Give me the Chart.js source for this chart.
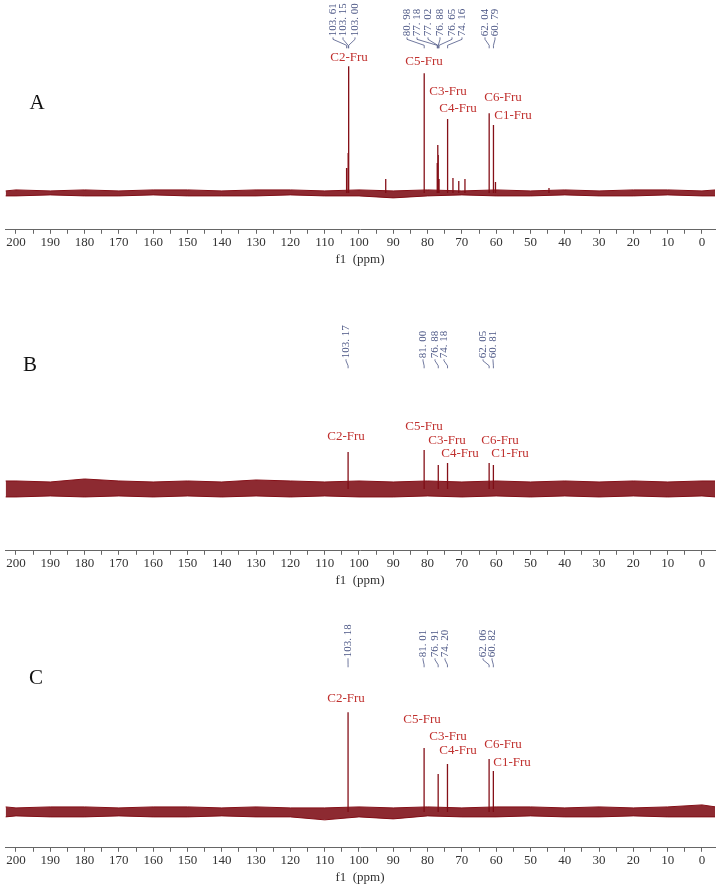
<!DOCTYPE html>
<html lang="en">
<head>
    <meta charset="UTF-8">
    <title>13C NMR spectra A, B, C</title>
    <style>
        body {
            margin: 0;
            background: #fff;
            width: 721px;
            height: 888px;
            overflow: hidden;
            position: relative;
        }
        .panel {
            position: absolute;
            left: 0;
            width: 721px;
        }
    </style>
</head>
<body>
    <div class="panel" id="wrapA"><canvas id="chartA" width="721" height="272"></canvas></div>
    <div class="panel" id="wrapB"><canvas id="chartB" width="721" height="290"></canvas></div>
    <div class="panel" id="wrapC"><canvas id="chartC" width="721" height="288"></canvas></div>

    <script src="https://cdn.jsdelivr.net/npm/chart.js"></script>
    <script>
        // axis
        const tickLabels = [200, 190, 180, 170, 160, 150, 140, 130, 120, 110, 100, 90, 80, 70, 60, 50, 40, 30, 20, 10, 0];
        const assignNames = ['C2-Fru', 'C5-Fru', 'C3-Fru', 'C4-Fru', 'C6-Fru', 'C1-Fru'];

        // baseline noise envelope (ppm grid)
        const noisePpm = [203, 200, 190, 180, 170, 160, 150, 140, 130, 120, 110, 100, 90, 80, 70, 60, 50, 40, 30, 20, 10, 0, -4];

        // spectrum A
        const peakPpmA = [103.61, 103.15, 103.00, 92.2, 80.98, 77.18, 77.02, 76.88, 76.65, 74.16, 72.6, 70.9, 69.1, 62.04, 60.79, 60.2, 44.6];
        const peakIntA = [25, 40, 127, 14, 120, 30, 48, 38, 14, 74, 15, 12, 14, 80, 68, 11, 5];
        const noiseHiA = [2, 3, 2, 3, 2, 3, 3, 2, 3, 3, 2, 3, 2, 3, 2, 3, 2, 3, 2, 3, 3, 2, 3];
        const noiseLoA = [-3, -3, -2, -3, -3, -2, -3, -3, -3, -2, -3, -3, -5, -3, -2, -3, -3, -2, -3, -3, -2, -3, -3];
        const shiftsA = [103.61, 103.15, 103.00, 80.98, 77.18, 77.02, 76.88, 76.65, 74.16, 62.04, 60.79];

        // spectrum B
        const peakPpmB = [103.17, 81.00, 76.88, 74.18, 62.05, 60.81];
        const peakIntB = [37, 39, 24, 26, 26, 24];
        const noiseHiB = [8, 8, 7, 10, 8, 7, 8, 7, 9, 8, 7, 8, 7, 8, 7, 8, 7, 8, 7, 8, 7, 8, 8];
        const noiseLoB = [-8, -8, -7, -8, -7, -8, -7, -8, -7, -8, -7, -8, -8, -7, -8, -7, -8, -7, -8, -7, -8, -7, -8];
        const shiftsB = [103.17, 81.00, 76.88, 74.18, 62.05, 60.81];

        // spectrum C
        const peakPpmC = [103.18, 81.01, 76.91, 74.20, 62.06, 60.82];
        const peakIntC = [100, 64, 38, 48, 53, 41];
        const noiseHiC = [5, 4, 5, 5, 4, 5, 5, 4, 5, 4, 4, 5, 4, 5, 4, 5, 5, 4, 5, 4, 5, 7, 5];
        const noiseLoC = [-5, -4, -5, -5, -4, -5, -5, -4, -5, -5, -8, -5, -7, -4, -5, -5, -4, -5, -5, -4, -5, -5, -5];
        const shiftsC = [103.18, 81.01, 76.91, 74.20, 62.06, 60.82];

        // page placement (pixels)
        const layoutA = {
            letter: 'A', letterXY: [37, 103], axisY: 230, baseY: 193,
            shiftX: [333, 343, 355, 407, 417, 428, 440, 452, 462, 485, 495], shiftBottom: 36, shiftLen: 12,
            assignXY: [[349, 57], [424, 61], [448, 91], [458, 108], [503, 97], [513, 115]]
        };
        const layoutB = {
            letter: 'B', letterXY: [30, 365], axisY: 551, baseY: 489,
            shiftX: [346, 423, 435, 444, 483, 493], shiftBottom: 358, shiftLen: 10,
            assignXY: [[346, 436], [424, 426], [447, 440], [460, 454], [500, 440], [510, 454]]
        };
        const layoutC = {
            letter: 'C', letterXY: [36, 678], axisY: 848, baseY: 812,
            shiftX: [348, 423, 435, 445, 483, 492], shiftBottom: 657, shiftLen: 10,
            assignXY: [[346, 698], [422, 719], [448, 736], [458, 751], [503, 745], [512, 763]]
        };

        const specColor = '#851018';
        const specFill = 'rgba(125, 12, 20, 0.88)';
        const serif = '"Liberation Serif", "DejaVu Serif", serif';

        // one vertical stick per peak, broken apart by gaps
        function stickData(ppm, h) {
            const pts = [];
            ppm.forEach((p, i) => {
                pts.push({x: p, y: 0}, {x: p, y: h[i]}, {x: p, y: null});
            });
            return pts;
        }

        function envelope(vals) {
            return noisePpm.map((p, i) => ({x: p, y: vals[i]}));
        }

        function makeChart(canvasId, wrapId, peakPpm, peakInt, hi, lo, shifts, L) {
            // labels, shift values and the panel letter
            const annotate = {
                id: 'annotate',
                afterDatasetsDraw(chart) {
                    const ctx = chart.ctx;
                    const xs = chart.scales.x;
                    const ys = chart.scales.y;
                    const py = v => ys.getPixelForValue(L.baseY - v);
                    ctx.save();

                    // panel letter
                    ctx.fillStyle = '#111';
                    ctx.font = '21px ' + serif;
                    ctx.textAlign = 'center';
                    ctx.textBaseline = 'middle';
                    ctx.fillText(L.letter, L.letterXY[0], py(L.letterXY[1]));

                    // assignments
                    ctx.fillStyle = '#c0302e';
                    ctx.font = '13px ' + serif;
                    assignNames.forEach((name, i) => {
                        ctx.fillText(name, L.assignXY[i][0], py(L.assignXY[i][1]));
                    });

                    // chemical shift labels
                    ctx.strokeStyle = '#4b5685';
                    ctx.fillStyle = '#4b5685';
                    ctx.lineWidth = 0.8;
                    ctx.font = '11px ' + serif;
                    shifts.forEach((s, i) => {
                        const xl = L.shiftX[i];
                        const xp = xs.getPixelForValue(s);
                        const b = L.shiftBottom;
                        const n = L.shiftLen;
                        ctx.save();
                        ctx.translate(xl, py(b));
                        ctx.rotate(-Math.PI / 2);
                        ctx.textAlign = 'left';
                        ctx.fillText(s.toFixed(2).replace('.', '. '), 0, 0);
                        ctx.restore();
                        ctx.beginPath();
                        ctx.moveTo(xl, py(b + 1));
                        ctx.lineTo(xl, py(b + n * 0.25));
                        ctx.lineTo(xp, py(b + n * 0.75));
                        ctx.lineTo(xp, py(b + n));
                        ctx.stroke();
                    });
                    ctx.restore();
                }
            };

            const chart = new Chart(document.getElementById(canvasId), {
                type: 'line',
                data: {
                    datasets: [
                        {
                            data: envelope(hi),
                            borderColor: specColor,
                            borderWidth: 1,
                            backgroundColor: specFill,
                            fill: '+1',
                            pointRadius: 0,
                            tension: 0
                        },
                        {
                            data: envelope(lo),
                            borderColor: specColor,
                            borderWidth: 1,
                            fill: false,
                            pointRadius: 0,
                            tension: 0
                        },
                        {
                            data: stickData(peakPpm, peakInt),
                            borderColor: specColor,
                            borderWidth: 1.3,
                            fill: false,
                            spanGaps: false,
                            pointRadius: 0,
                            tension: 0
                        }
                    ]
                },
                options: {
                    responsive: false,
                    animation: false,
                    events: [],
                    layout: {padding: {left: 5, right: 6, top: 0, bottom: 0}},
                    plugins: {
                        legend: {display: false},
                        tooltip: {enabled: false}
                    },
                    scales: {
                        x: {
                            type: 'linear',
                            reverse: true,
                            min: -3.8,
                            max: 203.2,
                            ticks: {
                                stepSize: 5,
                                autoSkip: false,
                                maxRotation: 0,
                                includeBounds: false,
                                padding: 1,
                                color: '#333',
                                font: {family: serif, size: 13},
                                callback: v => tickLabels.includes(v) ? String(v) : ''
                            },
                            grid: {
                                drawOnChartArea: false,
                                drawTicks: true,
                                tickLength: 4,
                                tickColor: '#666'
                            },
                            border: {display: true, color: '#666', width: 1},
                            title: {
                                display: true,
                                text: 'f1  (ppm)',
                                color: '#333',
                                font: {family: serif, size: 13},
                                padding: {top: 0, bottom: 2}
                            }
                        },
                        y: {
                            display: false,
                            min: -40,
                            max: 200
                        }
                    }
                },
                plugins: [annotate]
            });

            // line the axis and the baseline up with the page, 1 unit = 1 px
            const wrap = document.getElementById(wrapId);
            const a = chart.chartArea;
            const top = L.axisY - a.bottom;
            wrap.style.top = top + 'px';
            const base = L.baseY - top;
            chart.options.scales.y.max = base - a.top;
            chart.options.scales.y.min = base - a.bottom;
            chart.update('none');
            return chart;
        }

        makeChart('chartA', 'wrapA', peakPpmA, peakIntA, noiseHiA, noiseLoA, shiftsA, layoutA);
        makeChart('chartB', 'wrapB', peakPpmB, peakIntB, noiseHiB, noiseLoB, shiftsB, layoutB);
        makeChart('chartC', 'wrapC', peakPpmC, peakIntC, noiseHiC, noiseLoC, shiftsC, layoutC);
    </script>
</body>
</html>
